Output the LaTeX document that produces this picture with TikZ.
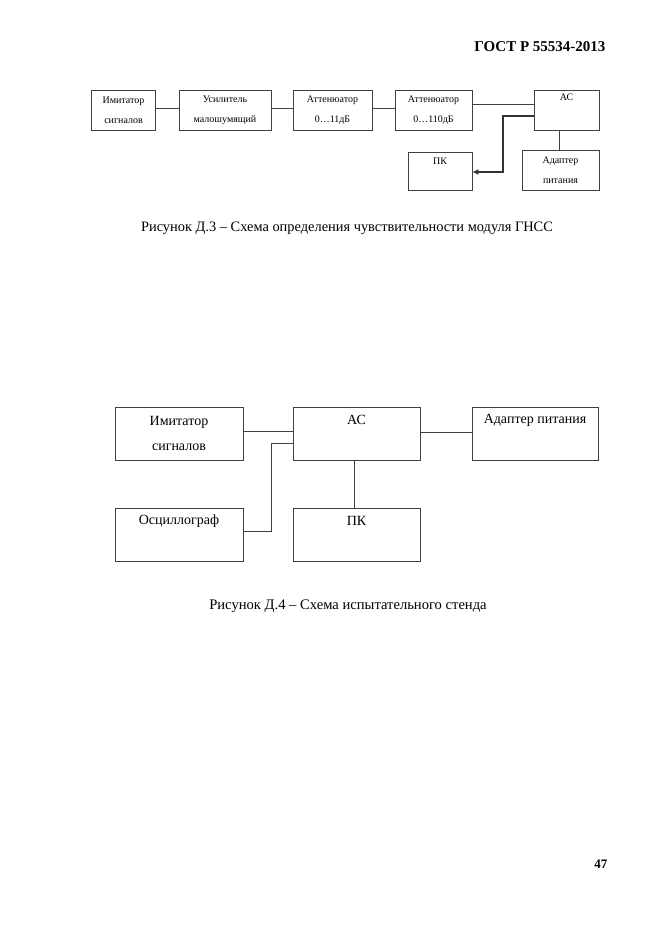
\documentclass[tikz,border=0pt]{standalone}
\usepackage{fontspec}
\setmainfont{Liberation Serif}
\usetikzlibrary{arrows.meta}
\begin{document}
\begin{tikzpicture}[x=1pt,y=-1pt,
  box/.style={draw=black!75, line width=0.7pt, inner sep=0pt},
  small/.style={font=\fontsize{10}{20}\selectfont, align=center},
  big/.style={font=\fontsize{14}{25}\selectfont, align=center},
  wire/.style={draw=black!75, line width=0.7pt},
  thickwire/.style={draw=black!80, line width=1.2pt},
  toplab/.style={anchor=north, inner sep=0pt}
]
\useasboundingbox (0,0) rectangle (662,935);
\fill[white] (0,0) rectangle (662,935);

% header and page number
\node[font=\fontsize{15}{18}\selectfont\bfseries, anchor=east] (hdr) at (609,47) {ГОСТ Р 55534-2013};
\node[font=\fontsize{13}{14}\selectfont\bfseries, anchor=east] (pg) at (611,864) {47};

% ---------- Figure D.3 ----------
\node[box, small, minimum width=64pt, minimum height=40pt] (im3) at (123.5,110) {Имитатор\\сигналов};
\node[box, small, minimum width=92pt, minimum height=40pt] (us3) at (225,110) {Усилитель\\малошумящий};
\node[box, small, minimum width=79pt, minimum height=40pt] (a11) at (332.5,110) {Аттенюатор\\0…11дБ};
\node[box, small, minimum width=77pt, minimum height=40pt] (a110) at (433.5,110) {Аттенюатор\\0…110дБ};
\node[box, minimum width=65pt, minimum height=40pt,
      label={[toplab, small, yshift=-4pt]north:АС}] (ac3) at (566.5,110) {};
\node[box, minimum width=64pt, minimum height=38pt,
      label={[toplab, small, yshift=-6pt]north:ПК}] (pk3) at (440,171) {};
\node[box, small, minimum width=77pt, minimum height=40pt] (ad3) at (560.5,170) {Адаптер\\питания};

\draw[wire] ([yshift=1.5pt]im3.east) -- ([yshift=1.5pt]us3.west);
\draw[wire] ([yshift=1.5pt]us3.east) -- ([yshift=1.5pt]a11.west);
\draw[wire] ([yshift=1.5pt]a11.east) -- ([yshift=1.5pt]a110.west);
\draw[wire] ([yshift=6pt]a110.east) -- ([yshift=6pt]ac3.west);
\coordinate (bend3) at (503,116);
\draw[thickwire, -{Latex[length=6pt,width=6pt]}] ([yshift=-6pt]ac3.west) -- (bend3) |- ([yshift=-1pt]pk3.east);
\draw[wire] ([xshift=-7.5pt]ac3.south) -- ([xshift=-7.5pt]ac3.south |- ad3.north);

\node[font=\fontsize{14.4}{16}\selectfont] (cap3) at (347,228) {Рисунок Д.3 – Схема определения чувствительности модуля ГНСС};

% ---------- Figure D.4 ----------
\node[box, big, minimum width=128pt, minimum height=53pt] (im4) at (179,433.5) {Имитатор\\сигналов};
\node[box, minimum width=127pt, minimum height=53pt,
      label={[toplab, big, yshift=-8pt]north:АС}] (ac4) at (356.5,433.5) {};
\node[box, minimum width=126pt, minimum height=53pt,
      label={[toplab, big, yshift=-7pt]north:Адаптер питания}] (ad4) at (535,433.5) {};
\node[box, minimum width=128pt, minimum height=53pt,
      label={[toplab, big, yshift=-7pt]north:Осциллограф}] (os4) at (179,534.5) {};
\node[box, minimum width=127pt, minimum height=53pt,
      label={[toplab, big, yshift=-8pt]north:ПК}] (pk4) at (356.5,534.5) {};

\draw[wire] ([yshift=2.5pt]im4.east) -- ([yshift=2.5pt]ac4.west);
\coordinate (bend4) at (271,443);
\draw[wire] ([yshift=-9.5pt]ac4.west) -- (bend4) |- ([yshift=3.5pt]os4.east);
\draw[wire] ([xshift=-2.5pt]ac4.south) -- ([xshift=-2.5pt]ac4.south |- pk4.north);
\draw[wire] ([yshift=1.5pt]ac4.east) -- ([yshift=1.5pt]ad4.west);

\node[font=\fontsize{14.6}{16}\selectfont] (cap4) at (348,606) {Рисунок Д.4 – Схема испытательного стенда};
\end{tikzpicture}
\end{document}
